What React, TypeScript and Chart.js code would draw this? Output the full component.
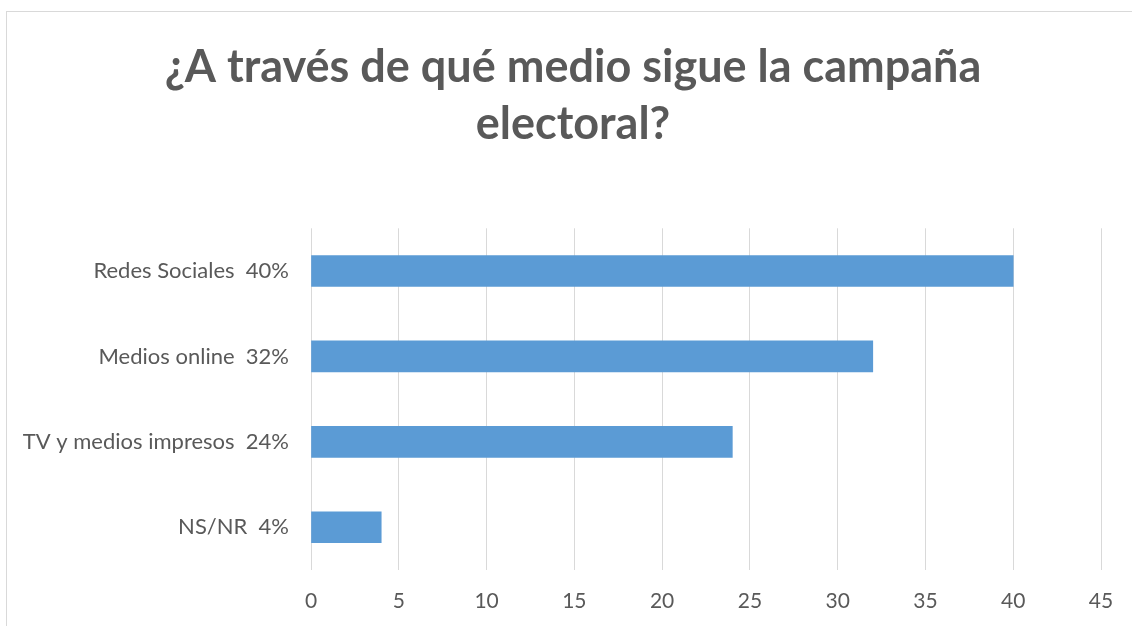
import React, { useEffect, useRef } from "react";
import { Chart, registerables } from "chart.js";

Chart.register(...registerables);

const titleLines = ["¿A través de qué medio sigue la campaña", "electoral?"];
const categories = ["Redes Sociales  40%", "Medios online  32%", "TV y medios impresos  24%", "NS/NR  4%"];
const values = [40, 32, 24, 4];
const xMin = 0;
const xMax = 45;
const xStep = 5;

const FONT = "Lato, 'Open Sans', sans-serif";

export default function App() {
  const ref = useRef<HTMLCanvasElement | null>(null);
  useEffect(() => {
    if (!ref.current) return;
    const chart = new Chart(ref.current, {
      type: "bar",
      data: {
        labels: categories,
        datasets: [
          {
            data: values,
            backgroundColor: "#5b9bd5",
            borderWidth: 0,
            barThickness: 31,
          },
        ],
      },
      options: {
        indexAxis: "y",
        responsive: false,
        animation: false,
        layout: { padding: { left: 38, right: 38, top: 0, bottom: 0 } },
        plugins: {
          legend: { display: false },
          tooltip: { enabled: false },
          title: {
            display: true,
            text: titleLines,
            color: "#595959",
            font: { family: FONT, size: 45, weight: "bold", lineHeight: 1.27 },
            padding: { top: 27, bottom: 75 },
          },
        },
        scales: {
          x: {
            min: xMin,
            max: xMax,
            ticks: {
              stepSize: xStep,
              color: "#595959",
              font: { family: FONT, size: 21 },
              padding: 19,
            },
            grid: { color: "#d9d9d9", lineWidth: 1, drawTicks: false },
            border: { display: false },
            afterFit: (s: any) => {
              s.height = 56;
            },
          },
          y: {
            ticks: {
              color: "#595959",
              font: { family: FONT, size: 22 },
              padding: 22,
            },
            grid: { display: false, drawTicks: false },
            border: { display: false },
            afterFit: (s: any) => {
              s.width = 266;
              s._computeLabelArea = () => undefined;
            },
          },
        },
      },
    });
    return () => chart.destroy();
  }, []);

  return (
    <div
      style={{
        position: "fixed",
        left: 6,
        top: 11,
        width: 1140,
        height: 640,
        border: "1px solid #d9d9d9",
        background: "#fff",
        overflow: "hidden",
      }}
    >
      <canvas ref={ref} width={1132} height={614} style={{ display: "block" }} />
    </div>
  );
}
